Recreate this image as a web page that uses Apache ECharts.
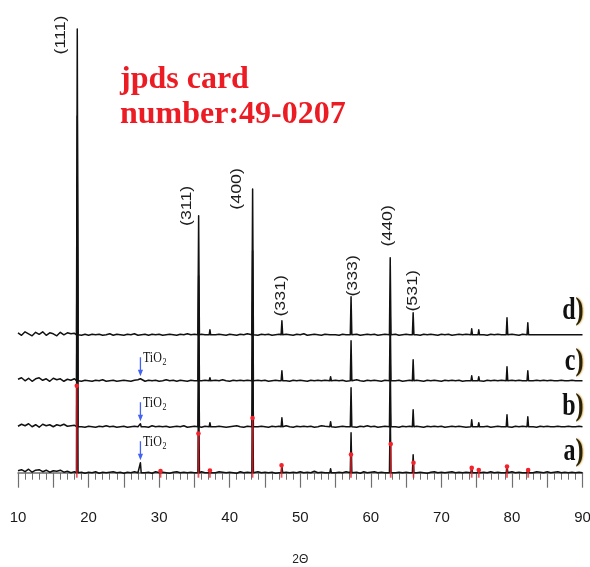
<!DOCTYPE html>
<html>
<head>
<meta charset="utf-8">
<title>XRD patterns</title>
<script src="https://cdn.jsdelivr.net/npm/echarts@6/dist/echarts.min.js"></script>
<style>
  html, body { margin: 0; padding: 0; background: #fff; }
  #chart { width: 590px; height: 567px; }
</style>
</head>
<body>
<div id="chart"></div>
<script>
// ---- 2θ axis ----
const thetaMin = 10;
const thetaMax = 90;
const tickStep = 5;
const tickLabels = ['10', '20', '30', '40', '50', '60', '70', '80', '90'];

// Background samples are taken every 0.5° from 10° to 90°
const sampleStep = 0.5;

// ---- stacked patterns, bottom to top ----
const patternNames = ['a)', 'b)', 'c)', 'd)'];
const patternOffsets = [0, 46, 92, 138];

// Reflection positions (2θ) shared by all four patterns
const peakPositions = [18.4, 27.35, 30.2, 35.6, 37.2, 43.25, 47.4, 54.3, 57.2, 62.75, 66.0, 74.3, 75.3, 79.3, 82.25];

// Peak heights above background (a.u.), one entry per position above
const peaksA = [230, 10, 1, 95, 2, 115, 6, 4, 40, 65, 18, 6, 3, 7, 4];
const peaksB = [250, 3, 0, 100, 4, 125, 9, 5, 39, 68, 17, 7, 4, 12, 10];
const peaksC = [265, 2, 0, 105, 3, 130, 10, 4, 40, 70, 21, 5, 4, 14, 10];
const peaksD = [306, 0, 0, 119, 5, 146, 14, 2, 38, 77, 22, 6, 5, 17, 12];

// Background (a.u.) every 0.5°, 10.0° ... 90.0°
const noiseA = [
  2, 3, 1, 3.5, 0.5, 2.5, 3, 1, 2.5, 0.5,
  2, 1.5, 2.5, 0.5, 1.5, 0, 1, 0, 0.5, -0.5,
  0.5, 0, 1, -0.5, 0.5, 0, 0.5, 1, 0, 0.5,
  -0.5, 0.5, 0, 1, 0, 0.5, 0, 0.5, -0.5, 1,
  0, 0.5, 0, -0.5, 0.5, 1, 0, 0.5, 0, 0.5,
  0, 0.5, 1, 0, 0.5, -0.5, 0, 1, 0.5, 0,
  0.5, 0, -0.5, 1, 0, 0.5, 0, 0.5, 1, 0,
  0.5, 0, 0.5, -0.5, 0, 1, 0.5, 0, 0.5, 0,
  1, 0, 0.5, 0, 1.5, 0, 0.5, 0, 0.5, 1,
  0, 0.5, 0, 1, 0.5, 0, 0.5, -0.5, 1, 0,
  0.5, 1, 0, 0.5, 0, 1, 0.5, 0, 0.5, 0,
  0.5, 0, 1, 0, 0.5, 0, -0.5, 0.5, 1, 0,
  0.5, 0, 0.5, 1, 0, 0.5, 0, 0.5, 1, 0,
  0.5, 0, 0.5, 0, 1, 0, 0.5, 0, 0.5, 0,
  1, 0, 0.5, 0, 1, 0.5, 0, 1, 0.5, 0,
  1, 0, 0.5, 1, 0, 0.5, 0, 0.5, 0, 0.5, 0
];
const noiseB = [
  0.5, 2.5, 1, 3, 0, 2, -0.5, 2.5, 1, 2,
  0, 2, 1, 2.5, 0.5, 1, 1.5, 0.5, 0, -0.5,
  0.5, 0, -0.5, 0.5, 0, 1, 0, 0.5, -0.5, 0,
  0.5, -0.5, 0, 0.5, 0, 0.5, 0, -0.5, 1, 0,
  0.5, 0, 0.5, -0.5, 0, 0.5, 0, 1, -0.5, 0,
  0.5, 0, -0.5, 0.5, 0, 0.5, 0, 0.5, 0, -0.5,
  0, 0.5, 1, 0, -0.5, 0.5, 0, 0.5, 0, 0.5,
  0, -0.5, 0.5, 0, 0.5, 0, 1, 0, -0.5, 0.5,
  0, 0.5, 0, 0.5, -0.5, 0, 1, 0.5, 0, 0.5,
  -0.5, 0, 0.5, 0, 0.5, 0, -0.5, 0.5, 0, 1,
  0, 0.5, -0.5, 0, 0.5, 0, 0.5, 0, -0.5, 0.5,
  0, 0.5, 0, 0.5, 0, -0.5, 0.5, 0, 0.5, 0,
  0.5, -0.5, 0, 0.5, 0, 0.5, 0, -0.5, 0.5, 0,
  0, 0.5, 0, 0.5, -0.5, 0, 0.5, 0, 0.5, 0,
  -0.5, 0.5, 0, 0.5, 0, 0.5, 0, -0.5, 0.5, 0,
  0.5, 0, 0, 0.5, 0, 0, 0.5, 0, 0, 0.5, 0
];
const noiseC = [
  1.5, 3, 0, 2.5, -0.5, 2, 3, 0.5, 2, -0.5,
  2.5, 1, 2, -0.5, 1.5, 0.5, 2, 1, -0.5, 0.5,
  0, -0.5, 0.5, 0, 1, -0.5, 0, 0.5, -0.5, 0,
  0.5, 0, -0.5, 0.5, 1, 0, -0.5, 0.5, 0, 0.5,
  -0.5, 0, 1, 0, 0.5, -0.5, 0.5, 0, -0.5, 0.5,
  0, 0.5, 0, 0.5, -0.5, 0, 0.5, 0, 1, 0,
  -0.5, 0.5, 0, 0.5, 0, 0.5, -0.5, 0, 0.5, 0,
  0.5, -0.5, 0, 0.5, 0, 1, 0, -0.5, 0.5, 0,
  0.5, 0, -0.5, 0.5, 0, 0.5, 0, 0.5, -0.5, 0,
  0.5, 0, 0.5, -0.5, 0, 0.5, 1, 0, -0.5, 0.5,
  0, 0.5, 0, -0.5, 0.5, 0, 0.5, 0, 0.5, -0.5,
  0, 0.5, 0, 0.5, 0, -0.5, 0.5, 0, 0.5, 0,
  -0.5, 0.5, 0, 0.5, 0, 0.5, -0.5, 0, 0.5, 0,
  0.5, 0, -0.5, 0.5, 0, 0.5, 0, 0.5, 0, -0.5,
  0.5, 0, 0.5, 0, -0.5, 0.5, 0, 0.5, 0, 0.5,
  0, 0.5, 0, 0, 0.5, 0, 0, 0.5, 0, 0, 0
];
const noiseD = [
  2, -0.5, 3, 1, -1, 2.5, 0.5, 3, -0.5, 2,
  1, -1, 2.5, 0, 2, 1, 1.5, 0, -0.5, 0.5,
  -0.5, 0.5, 0, 0.5, -0.5, 0, 1, -0.5, 0.5, 0,
  -0.5, 0.5, 0, 1, -0.5, 0, 0.5, -0.5, 0.5, 0,
  0.5, -0.5, 0, 0.5, 0, -0.5, 0.5, 0, 1, 0,
  0.5, 0, 0.5, 0, 0.5, -0.5, 0, 0.5, 0, -0.5,
  0.5, 0, -0.5, 0.5, 0, 1, 0.5, 0, -0.5, 0.5,
  0, 0.5, -0.5, 0, 0.5, 0, 0.5, 0, -0.5, 0.5,
  0, 1, -0.5, 0, 0.5, 0, -0.5, 0.5, 0, 0.5,
  0, -0.5, 0.5, 0, 1, 0, 0.5, -0.5, 0, 0.5,
  0, 0.5, -0.5, 0, 0.5, 1, 0, 0.5, -0.5, 0,
  0.5, 0, 0.5, 0, -0.5, 0.5, 0, 0.5, 0, -0.5,
  0.5, 0, 0.5, -0.5, 0, 0.5, 0, 0.5, 0, 0.5,
  0, 0.5, 0, -0.5, 0.5, 0, 0.5, 0, 0.5, 0,
  0.5, 0, -0.5, 0.5, 0, 0.5, 0, 0, 0, 0,
  0, 0, 0, 0, 0, 0, 0, 0, 0, 0, 0
];

// ---- JCPDS 49-0207 reference lines: 2θ and relative intensity (%) ----
const refPositions = [18.33, 30.2, 35.57, 37.2, 43.24, 47.35, 57.19, 62.82, 66.05, 74.3, 75.3, 79.3, 82.3];
const refIntensity = [100, 2, 45, 2.5, 63, 8.5, 21, 33, 11.5, 5.5, 3, 7, 3];
const refScale = 0.87; // a.u. per percent

// ---- Miller indices marked on the top pattern ----
const hklLabels = ['(111)', '(311)', '(400)', '(331)', '(333)', '(440)', '(531)'];
const hklPositions = [18.4, 35.6, 43.25, 47.4, 57.2, 62.75, 66.0];

// ---- rutile impurity marker ----
const tio2Position = 27.35;

// ---- legend text ----
const cardText = 'jpds card\nnumber:49-0207';

// =====================================================================
const yMin = -5, yMax = 450;
const peakSets = [peaksA, peaksB, peaksC, peaksD];
const noiseSets = [noiseA, noiseB, noiseC, noiseD];

// Assemble one pattern: background samples plus sharp reflections
function buildPattern(k) {
  const off = patternOffsets[k];
  const peaks = peakSets[k];
  const noise = noiseSets[k];
  const pts = [];
  const halfWidth = 0.11;
  noise.forEach(function (v, i) {
    const x = thetaMin + i * sampleStep;
    const nearPeak = peakPositions.some(function (p, j) {
      return peaks[j] > 0 && Math.abs(p - x) < 0.3;
    });
    if (!nearPeak) pts.push([x, off + v]);
  });
  peakPositions.forEach(function (p, j) {
    if (peaks[j] > 0) {
      pts.push([p - halfWidth, off]);
      pts.push([p, off + peaks[j]]);
      pts.push([p + halfWidth, off]);
    }
  });
  pts.sort(function (a, b) { return a[0] - b[0]; });
  return pts;
}

const sansFont = '"Liberation Sans", Arial, sans-serif';
const serifFont = '"Liberation Serif", "Times New Roman", serif';
const textStretch = 1.3;

const patternSeries = patternNames.map(function (name, k) {
  return {
    name: name,
    type: 'line',
    data: buildPattern(k),
    showSymbol: false,
    symbol: 'none',
    smooth: false,
    lineStyle: { color: '#111', width: 1.5, join: 'round' },
    z: 2,
    silent: true
  };
});

// Red reference sticks with a dot on top
const refSeries = {
  type: 'custom',
  coordinateSystem: 'cartesian2d',
  data: refPositions.map(function (p, i) { return [p, refIntensity[i] * refScale]; }),
  encode: { x: 0, y: 1 },
  z: 5,
  silent: true,
  renderItem: function (params, api) {
    const top = api.coord([api.value(0), api.value(1)]);
    const bottom = api.coord([api.value(0), yMin]);
    return {
      type: 'group',
      children: [
        { type: 'line', shape: { x1: top[0], y1: top[1], x2: bottom[0], y2: bottom[1] },
          style: { stroke: 'rgba(238,30,38,0.75)', lineWidth: 1.8 } },
        { type: 'circle', shape: { cx: top[0], cy: top[1], r: 2.3 },
          style: { fill: '#f3222b' } }
      ]
    };
  }
};

// Miller index labels, rotated, placed relative to the top pattern's peaks
const hklOffsets = [[-16, 6], [-11, -10], [-15.5, 0], [-1, -25], [2, -21], [-2, -32], [0, -22]];
const hklSeries = {
  type: 'custom',
  coordinateSystem: 'cartesian2d',
  data: hklPositions.map(function (p, i) {
    const j = peakPositions.indexOf(p);
    return [p, patternOffsets[3] + peaksD[j], i];
  }),
  encode: { x: 0, y: 1 },
  z: 6,
  silent: true,
  renderItem: function (params, api) {
    const i = api.value(2);
    const pt = api.coord([api.value(0), api.value(1)]);
    const o = hklOffsets[i];
    return {
      type: 'text',
      x: pt[0] + o[0],
      y: pt[1] + o[1],
      rotation: Math.PI / 2,
      scaleX: 1.27,
      style: {
        text: hklLabels[i],
        fill: '#1c1c1c',
        fontSize: 14,
        fontFamily: sansFont,
        align: 'center',
        verticalAlign: 'middle'
      }
    };
  }
};

// Blue arrows marking the TiO2 reflection on patterns a)–c)
const tio2Series = {
  type: 'custom',
  coordinateSystem: 'cartesian2d',
  data: [0, 1, 2].map(function (k) {
    return [tio2Position, patternOffsets[k] + peakSets[k][peakPositions.indexOf(tio2Position)]];
  }),
  encode: { x: 0, y: 1 },
  z: 6,
  silent: true,
  renderItem: function (params, api) {
    const pt = api.coord([api.value(0), api.value(1)]);
    const x = pt[0];
    const tip = pt[1] - 2.5;
    const tail = tip - 19;
    const blue = '#4563f2';
    return {
      type: 'group',
      children: [
        { type: 'line', shape: { x1: x, y1: tail, x2: x, y2: tip - 4 },
          style: { stroke: blue, lineWidth: 1.3 } },
        { type: 'polygon', shape: { points: [[x - 2.6, tip - 6.5], [x + 2.6, tip - 6.5], [x, tip]] },
          style: { fill: blue } },
        {
          type: 'group',
          x: x + 2.5,
          y: tail - 7.5,
          scaleY: textStretch,
          children: [
            { type: 'text', x: 0, y: 0,
              style: { text: 'TiO', fill: '#111', fontSize: 12, fontFamily: serifFont,
                       align: 'left', verticalAlign: 'top' } },
            { type: 'text', x: 19.5, y: 5.5,
              style: { text: '2', fill: '#111', fontSize: 8, fontFamily: serifFont,
                       align: 'left', verticalAlign: 'top' } }
          ]
        }
      ]
    };
  }
};

// Pattern names at the right end of each trace
const nameLift = [5, 4, 3, 8];
const nameSeries = {
  type: 'custom',
  coordinateSystem: 'cartesian2d',
  data: patternOffsets.map(function (o, k) { return [thetaMax, o, k]; }),
  encode: { x: 0, y: 1 },
  z: 6,
  silent: true,
  renderItem: function (params, api) {
    const k = api.value(2);
    const pt = api.coord([api.value(0), api.value(1)]);
    const label = patternNames[k];
    return {
      type: 'text',
      x: pt[0] + 1,
      y: pt[1] - nameLift[k],
      scaleY: 1.33,
      style: {
        text: '{l|' + label.slice(0, -1) + '}{p|)}',
        align: 'right',
        verticalAlign: 'bottom',
        rich: {
          l: { fontSize: 24, fontWeight: 'bold', fontFamily: serifFont, fill: '#111' },
          p: { fontSize: 24, fontWeight: 'bold', fontFamily: serifFont, fill: '#2a2206',
               textShadowColor: 'rgba(205,150,40,0.75)', textShadowBlur: 1.5, textShadowOffsetX: 1 }
        }
      }
    };
  }
};

const chart = echarts.init(document.getElementById('chart'), null, { renderer: 'canvas' });
chart.setOption({
  animation: false,
  backgroundColor: '#fff',
  grid: { left: 18, right: 7.5, top: 23, bottom: 89.3, containLabel: false, outerBoundsMode: 'none' },
  xAxis: {
    type: 'value',
    min: thetaMin,
    max: thetaMax,
    interval: tickStep,
    axisLine: { show: true, lineStyle: { color: '#6f6f6f', width: 1.5 } },
    axisTick: { show: true, inside: false, length: 15, lineStyle: { color: '#6f6f6f', width: 1.2 } },
    minorTick: { show: true, splitNumber: 5, length: 7, lineStyle: { color: '#6f6f6f', width: 1 } },
    splitLine: { show: false },
    minorSplitLine: { show: false },
    axisLabel: {
      margin: 33,
      fontSize: 15,
      fontFamily: sansFont,
      color: '#1a1a1a',
      formatter: function (v) {
        const s = String(Math.round(v));
        return tickLabels.indexOf(s) >= 0 ? s : '';
      }
    },
    name: '2Θ',
    nameLocation: 'middle',
    nameGap: 76,
    nameTextStyle: { fontSize: 12, fontFamily: sansFont, color: '#222' }
  },
  yAxis: { type: 'value', min: yMin, max: yMax, show: false },
  graphic: [
    {
      type: 'text',
      left: 120,
      top: 62,
      silent: true,
      style: {
        text: cardText,
        fill: '#ec1c24',
        fontSize: 32,
        fontWeight: 'bold',
        fontFamily: serifFont,
        lineHeight: 35
      }
    }
  ],
  series: patternSeries.concat([refSeries, hklSeries, tio2Series, nameSeries])
});
</script>
</body>
</html>
